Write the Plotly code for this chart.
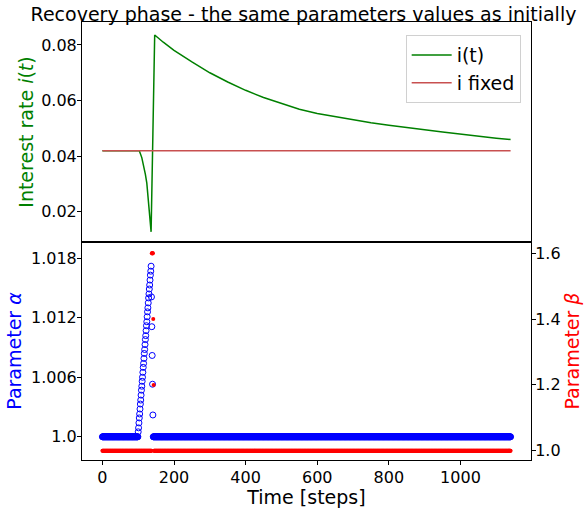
import plotly.graph_objects as go

# ---------------- data ----------------
steps = list(range(0, 1141))

# interest rate i(t), read points
i_t_steps = [0, 103, 110, 114, 120, 124, 130, 133, 136, 141, 146, 170, 200, 250, 300, 350,
             400, 450, 500, 550, 600, 650, 700, 750, 800, 850, 900, 950, 1000, 1050, 1100, 1140]
i_t_values = [0.042, 0.042, 0.0395, 0.0374, 0.0335, 0.0303, 0.0218, 0.0170, 0.0128, 0.0480,
              0.0836, 0.0810, 0.0781, 0.0739, 0.0700, 0.0667, 0.0637, 0.0611, 0.0589, 0.0569,
              0.0554, 0.0542, 0.0531, 0.0520, 0.0511, 0.0502, 0.0495, 0.0487, 0.0479, 0.0472,
              0.0465, 0.0460]

i_fixed_steps = [0, 1140]
i_fixed_values = [0.042, 0.042]

alpha_rise = [1.0005, 1.0009, 1.0014, 1.0019, 1.0023, 1.0028, 1.0033, 1.0037, 1.0042, 1.0047,
              1.0051, 1.0056, 1.0060, 1.0065, 1.0070, 1.0074, 1.0079, 1.0084, 1.0088, 1.0093,
              1.0098, 1.0102, 1.0107, 1.0112, 1.0116, 1.0121, 1.0126, 1.0130, 1.0135, 1.0140,
              1.0144, 1.0149, 1.0153, 1.0158, 1.0163, 1.0167, 1.0172]
alpha_fall = [1.0141, 1.0111, 1.0082, 1.0053, 1.0022]
alpha = [1.0] * 100 + alpha_rise + alpha_fall + [1.0] * 999

beta_peak = [1.6, 1.6, 1.6, 1.6, 1.4, 1.2]
beta = [1.0] * 138 + beta_peak + [1.0] * 997

alpha_ticks = [1.0, 1.006, 1.012, 1.018]
alpha_ticktext = ["1.0", "1.006", "1.012", "1.018"]
beta_ticks = [1.0, 1.2, 1.4, 1.6]
beta_ticktext = ["1.0", "1.2", "1.4", "1.6"]
i_ticks = [0.02, 0.04, 0.06, 0.08]
i_ticktext = ["0.02", "0.04", "0.06", "0.08"]
x_ticks = [0, 200, 400, 600, 800, 1000]

# ---------------- figure ----------------
FONT = "DejaVu Sans"
GREEN = "#008000"
fig = go.Figure()

fig.add_trace(go.Scatter(x=i_t_steps, y=i_t_values, mode="lines", name="i(t)",
                         line=dict(color=GREEN, width=1.5), xaxis="x", yaxis="y"))
fig.add_trace(go.Scatter(x=i_fixed_steps, y=i_fixed_values, mode="lines", name="i fixed",
                         line=dict(color="#c85050", width=1.5), xaxis="x", yaxis="y"))
fig.add_trace(go.Scatter(x=steps, y=alpha, mode="markers", showlegend=False,
                         marker=dict(symbol="circle-open", color="blue", size=6,
                                     line=dict(width=1, color="blue")),
                         xaxis="x2", yaxis="y2"))
fig.add_trace(go.Scatter(x=steps, y=beta, mode="markers", showlegend=False,
                         marker=dict(symbol="circle", color="red", size=4, line=dict(width=0)),
                         xaxis="x2", yaxis="y3"))

axis_common = dict(showline=True, linecolor="black", linewidth=1, mirror=True,
                   ticks="outside", ticklen=4, tickwidth=1, tickcolor="black",
                   showgrid=False, zeroline=False, automargin=False,
                   tickfont=dict(family=FONT, size=16, color="black"))

split = 218 / 438

fig.update_layout(
    width=584, height=508,
    margin=dict(l=82, r=53, t=22, b=48),
    paper_bgcolor="white", plot_bgcolor="white",
    title=dict(text="Recovery phase - the same parameters values as initially",
               x=0.5197, xanchor="center", y=0.9724, yanchor="middle",
               font=dict(family=FONT, size=19, color="black")),
    font=dict(family=FONT),
    xaxis=dict(axis_common, domain=[0, 1], anchor="y", range=[-57, 1197],
               showticklabels=False, ticks="", matches="x2"),
    yaxis=dict(axis_common, domain=[split, 1], anchor="x", range=[0.00914, 0.08827],
               tickvals=i_ticks, ticktext=i_ticktext, ticklabelstandoff=-3,
               title=dict(text="Interest rate <i>i</i>(<i>t</i>)", standoff=2,
                          font=dict(family=FONT, size=19, color=GREEN))),
    xaxis2=dict(axis_common, domain=[0, 1], anchor="y2", range=[-57, 1197],
                tickvals=x_ticks, ticklabelstandoff=-1,
                title=dict(text="Time [steps]", standoff=0,
                           font=dict(family=FONT, size=19, color="black"))),
    yaxis2=dict(axis_common, domain=[0, split], anchor="x2", range=[0.99766, 1.01964],
                mirror=False, tickvals=alpha_ticks, ticktext=alpha_ticktext,
                ticklabelstandoff=-3,
                title=dict(text="Parameter <i>α</i>", standoff=4,
                           font=dict(family=FONT, size=19, color="blue"))),
    yaxis3=dict(axis_common, overlaying="y2", anchor="x2", side="right",
                range=[0.9717, 1.6343], mirror=False,
                tickvals=beta_ticks, ticktext=beta_ticktext, ticklabelstandoff=-4,
                title=dict(text="Parameter <i>β</i>", standoff=2,
                           font=dict(family=FONT, size=19, color="red"))),
    legend=dict(x=0.977, y=0.970, xanchor="right", yanchor="top", itemwidth=40,
                bgcolor="white", bordercolor="#d0d0d0", borderwidth=1,
                font=dict(family=FONT, size=19, color="black")),
)

fig.write_html("out.html", config={"displayModeBar": False},
               post_script="document.body.style.margin='0px';")
